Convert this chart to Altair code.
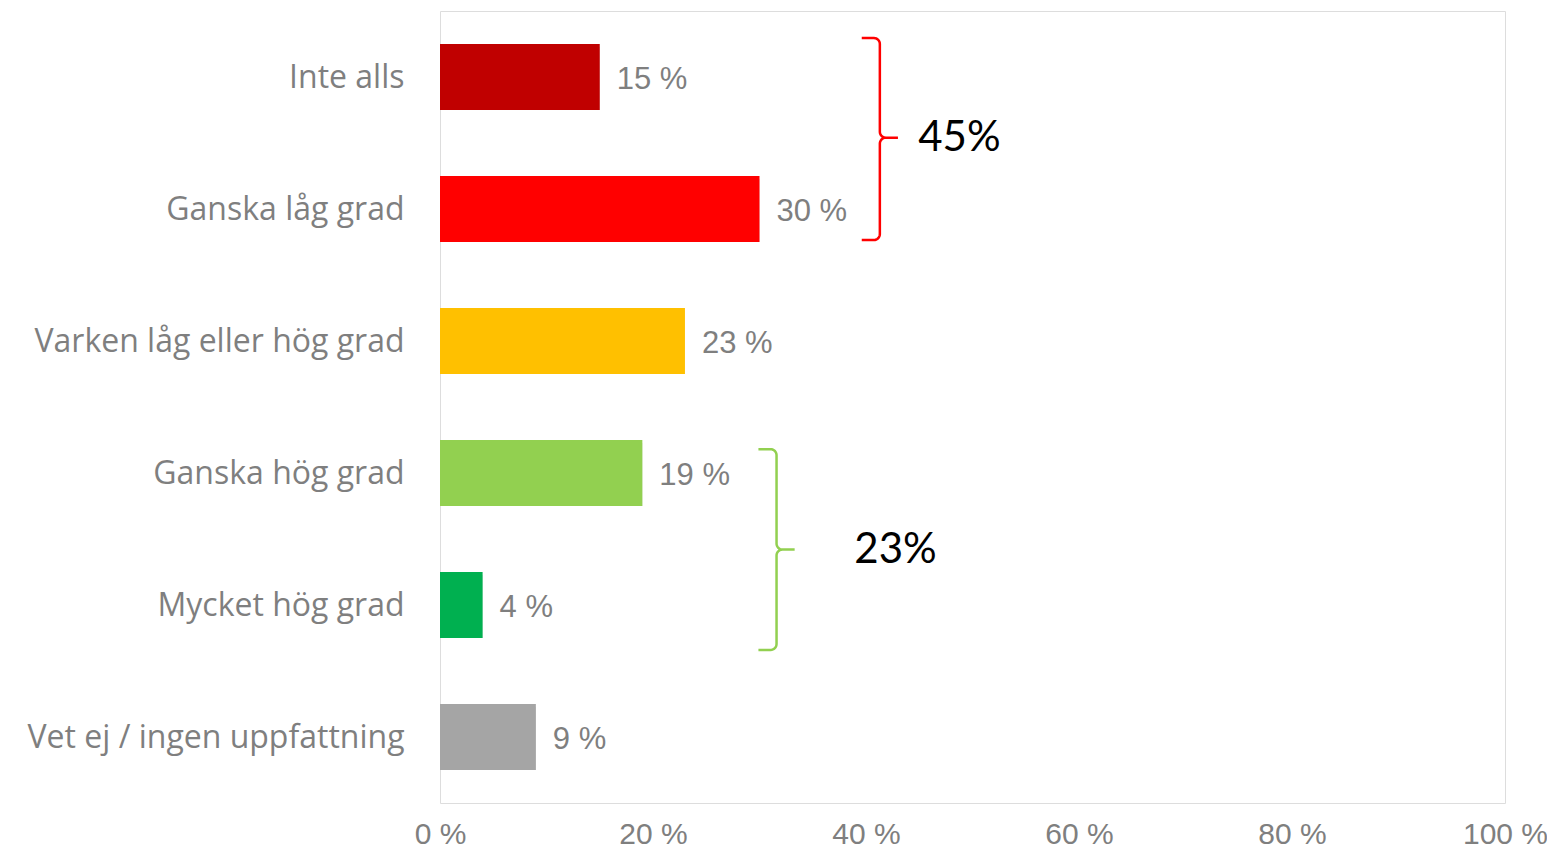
import math
import json
import altair as alt
import pandas as pd

# ---- data ----
categories = [
    "Inte alls",
    "Ganska låg grad",
    "Varken låg eller hög grad",
    "Ganska hög grad",
    "Mycket hög grad",
    "Vet ej / ingen uppfattning",
]
values = [15, 30, 23, 19, 4, 9]
bar_colors = ["#C00000", "#FF0000", "#FFC000", "#92D050", "#00B050", "#A5A5A5"]
x_ticks = [0, 20, 40, 60, 80, 100]

group_labels = ["45%", "23%"]
group_colors = ["#FF0000", "#92D050"]

# ---- tables ----
bars = pd.DataFrame({
    "cat": categories,
    "value": values,
    "color": bar_colors,
    "idx": list(range(len(categories))),
})
bars["lo"] = bars["idx"] + 0.25
bars["hi"] = bars["idx"] + 0.75
bars["mid"] = bars["idx"] + 0.5
bars["zero"] = 0
bars["label"] = bars["value"].astype(str) + " %"

# brace annotation geometry (x in %, y in category-index units)
brace_geom = [
    dict(xv=41.3, top=0.205, bot=1.735, mid=0.96, tx=44.9),
    dict(xv=31.6, top=3.32, bot=4.84, mid=4.08, tx=38.9),
]


def brace_points(g, arm=1.7, rx=0.55, ry=0.045, n=8):
    xv, top, bot, mid = g["xv"], g["top"], g["bot"], g["mid"]
    pts = [(xv - arm, top)]

    def arc(cx, cy, a0, a1):
        out = []
        for k in range(n + 1):
            t = math.radians(a0 + (a1 - a0) * k / n)
            out.append((cx + rx * math.cos(t), cy + ry * math.sin(t)))
        return out

    pts += arc(xv - rx, top + ry, -90, 0)
    pts += arc(xv + rx, mid - ry, 180, 90)
    pts += [(xv + arm, mid)]
    pts += arc(xv + rx, mid + ry, 270, 180)
    pts += arc(xv - rx, bot - ry, 0, 90)
    pts += [(xv - arm, bot)]
    return pts


rows = []
for b, g in enumerate(brace_geom):
    for o, (x, y) in enumerate(brace_points(g)):
        rows.append({"brace": b, "order": o, "x": x, "y": y, "color": group_colors[b]})
braces = pd.DataFrame(rows)

brace_text = pd.DataFrame({
    "label": group_labels,
    "x": [g["tx"] for g in brace_geom],
    "y": [g["mid"] for g in brace_geom],
})

W, H = 1065, 792
cat_js = json.dumps(categories, ensure_ascii=False)

xscale = alt.Scale(domain=[0, 100], nice=False, zero=True)
yscale = alt.Scale(domain=[0, len(categories)], reverse=True, nice=False, zero=False)

x_axis = alt.Axis(
    values=x_ticks, labelExpr="datum.value + ' %'", title=None,
    ticks=False, domain=False, grid=False,
    labelFont="Liberation Sans", labelFontSize=30, labelColor="#7F7F7F",
    labelPadding=16, labelFlush=False, labelOverlap=False,
)
y_axis = alt.Axis(
    values=[i + 0.5 for i in range(len(categories))],
    labelExpr=f"{cat_js}[floor(datum.value)]", title=None,
    ticks=False, domain=False, grid=False,
    labelFont="Open Sans", labelFontSize=32, labelColor="#7F7F7F",
    labelPadding=36, labelLimit=600, labelOverlap=False,
)

shadow_layer = alt.Chart(bars).mark_rect(
    color="#000000", opacity=0.13, xOffset=2, yOffset=3,
).encode(
    x=alt.X("zero:Q", scale=xscale, axis=x_axis),
    x2="value:Q",
    y=alt.Y("lo:Q", scale=yscale, axis=y_axis),
    y2="hi:Q",
)

bar_layer = alt.Chart(bars).mark_rect().encode(
    x=alt.X("zero:Q", scale=xscale, axis=x_axis),
    x2="value:Q",
    y=alt.Y("lo:Q", scale=yscale, axis=y_axis),
    y2="hi:Q",
    color=alt.Color("color:N", scale=None),
)

label_layer = alt.Chart(bars).mark_text(
    align="left", baseline="middle", dx=17, dy=3,
    font="Liberation Sans", fontSize=31, color="#7F7F7F",
).encode(
    x=alt.X("value:Q", scale=xscale),
    y=alt.Y("mid:Q", scale=yscale),
    text="label:N",
)

brace_layer = alt.Chart(braces).mark_line(strokeWidth=2.5, interpolate="linear").encode(
    x=alt.X("x:Q", scale=xscale),
    y=alt.Y("y:Q", scale=yscale),
    detail="brace:N",
    order="order:Q",
    color=alt.Color("color:N", scale=None),
)

brace_text_layer = alt.Chart(brace_text).mark_text(
    align="left", baseline="middle", font="Lato", fontSize=42, color="#000000",
).encode(
    x=alt.X("x:Q", scale=xscale),
    y=alt.Y("y:Q", scale=yscale),
    text="label:N",
)

chart = alt.layer(shadow_layer, bar_layer, label_layer, brace_layer, brace_text_layer).properties(
    width=W, height=H,
    autosize=alt.AutoSizeParams(type="none"),
    padding={"left": 432, "top": 3, "right": 42, "bottom": 46},
).configure_view(
    stroke="#D9D9D9", strokeWidth=1.5,
).configure(background="white")

chart.save("out.html", embed_options={"renderer": "svg", "actions": False})
